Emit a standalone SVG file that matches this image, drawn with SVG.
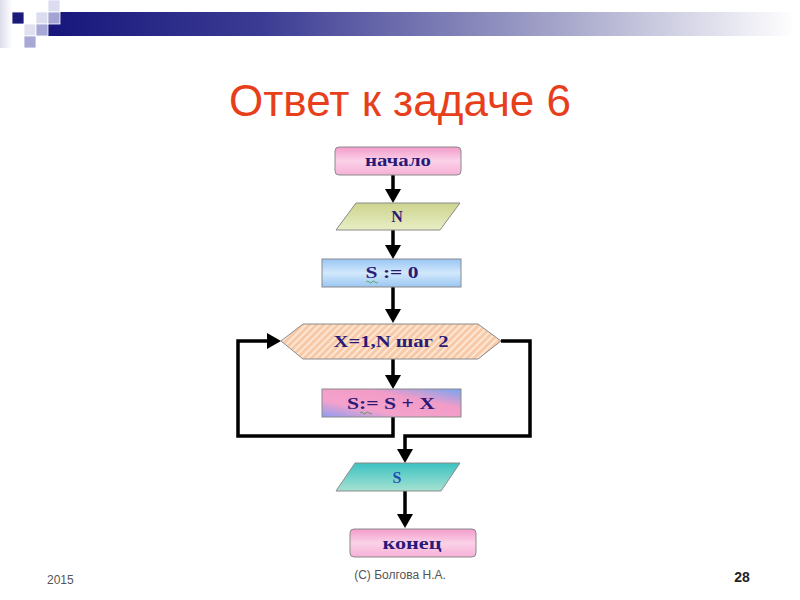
<svg xmlns="http://www.w3.org/2000/svg" width="800" height="600" viewBox="0 0 800 600">
<defs>
<linearGradient id="bar" x1="0" y1="0" x2="1" y2="0">
<stop offset="0" stop-color="#14147a"/>
<stop offset="0.3" stop-color="#3c3c94"/>
<stop offset="0.7" stop-color="#a8a8cc"/>
<stop offset="1" stop-color="#ffffff"/>
</linearGradient>
<linearGradient id="leftfade" x1="0" y1="0" x2="1" y2="0">
<stop offset="0" stop-color="#dcdcec"/>
<stop offset="1" stop-color="#ffffff"/>
</linearGradient>
<linearGradient id="pink" x1="0" y1="0" x2="0" y2="1">
<stop offset="0" stop-color="#f39bcb"/>
<stop offset="0.5" stop-color="#fbd2e8"/>
<stop offset="1" stop-color="#f6b0d6"/>
</linearGradient>
<linearGradient id="olive" x1="0" y1="0" x2="0" y2="1">
<stop offset="0" stop-color="#cdd48e"/>
<stop offset="1" stop-color="#e8eec4"/>
</linearGradient>
<linearGradient id="blue" x1="0" y1="0" x2="0" y2="1">
<stop offset="0" stop-color="#98c6f4"/>
<stop offset="0.5" stop-color="#d2e8fc"/>
<stop offset="1" stop-color="#9ac6f2"/>
</linearGradient>
<linearGradient id="mix" x1="0" y1="1" x2="1" y2="0">
<stop offset="0" stop-color="#8c9cf0"/>
<stop offset="0.3" stop-color="#f4a2cc"/>
<stop offset="0.65" stop-color="#f29cc8"/>
<stop offset="1" stop-color="#74a4f2"/>
</linearGradient>
<linearGradient id="teal" x1="0" y1="0" x2="0" y2="1">
<stop offset="0" stop-color="#3cc2c2"/>
<stop offset="1" stop-color="#a6e2d2"/>
</linearGradient>
<pattern id="hatch" width="5" height="5" patternUnits="userSpaceOnUse" patternTransform="rotate(45)">
<rect width="5" height="5" fill="#f7c9a6"/>
<rect width="2" height="5" fill="#fde6d4"/>
</pattern>
<marker id="ah" viewBox="0 0 14 16" refX="2" refY="8" markerWidth="14" markerHeight="16" markerUnits="userSpaceOnUse" orient="auto">
<path d="M0,0 L14,8 L0,16 z" fill="#000"/>
</marker>
<style>
.box{stroke:#8a8a8a;stroke-width:1}
.lbl{font-family:"Liberation Serif","Times New Roman",serif;font-weight:bold;font-size:16px;fill:#2a1a78;text-anchor:middle}
.conn{fill:none;stroke:#000;stroke-width:3.5;marker-end:url(#ah)}
.foot{font-family:"Liberation Sans Narrow","Liberation Sans",Arial,sans-serif;font-size:12px;fill:#555}
.sq{stroke:#ffffff;stroke-width:0.8}
</style>
</defs>
<rect width="800" height="600" fill="#ffffff"/>
<g id="header">
<rect x="0" y="0" width="12" height="48" fill="url(#leftfade)"/>
<rect x="36" y="12" width="759" height="24" fill="url(#bar)"/>
<rect class="sq" x="12" y="12" width="12" height="12" fill="#1a1a7a"/>
<rect class="sq" x="24" y="24" width="12" height="12" fill="#e0e0f0"/>
<rect class="sq" x="24" y="36" width="12" height="12" fill="#a8a8d6"/>
<rect class="sq" x="36" y="12" width="12" height="12" fill="#dcdcf0"/>
<rect class="sq" x="36" y="24" width="12" height="12" fill="#a8a8d6"/>
<rect class="sq" x="48" y="0" width="12" height="12" fill="#dcdcf0"/>
<rect class="sq" x="48" y="12" width="12" height="12" fill="#a4a4d4"/>
</g>
<text x="400" y="116" font-family="Liberation Sans, Arial, sans-serif" font-size="44" fill="#e73f1c" text-anchor="middle">Ответ к задаче 6</text>
<g id="connectors">
<path class="conn" d="M393,175 V191"/>
<path class="conn" d="M393,230 V247"/>
<path class="conn" d="M393,287 V311"/>
<path class="conn" d="M393,359 V377"/>
<path class="conn" d="M393,417 V436 H238 V341 H269"/>
<path class="conn" d="M501,341 H530 V436 H405 V451"/>
<path class="conn" d="M405,491 V516"/>
</g>
<g id="start">
<rect class="box" x="335" y="147" width="126" height="28" rx="4" fill="url(#pink)"/>
<text class="lbl" x="398" y="166" textLength="66" lengthAdjust="spacingAndGlyphs">начало</text>
</g>
<g id="inputN">
<polygon class="box" points="356,203 460,203 440,230 336,230" fill="url(#olive)"/>
<text class="lbl" x="397" y="222">N</text>
</g>
<g id="init">
<rect class="box" x="322" y="259" width="139" height="28" fill="url(#blue)"/>
<text class="lbl" x="392" y="278" textLength="53" lengthAdjust="spacingAndGlyphs">S := 0</text>
<path d="M366,282 q1.5,-2 3,0 t3,0 t3,0 t3,0" fill="none" stroke="#3a9a3a" stroke-width="0.8"/>
</g>
<g id="loop">
<polygon class="box" points="281,341 303,324 478,324 501,341 478,359 303,359" fill="url(#hatch)"/>
<text class="lbl" x="391" y="347" textLength="115" lengthAdjust="spacingAndGlyphs">X=1,N шаг 2</text>
</g>
<g id="body">
<rect class="box" x="322" y="389" width="139" height="28" fill="url(#mix)"/>
<text class="lbl" x="391" y="409" textLength="88" lengthAdjust="spacingAndGlyphs">S:= S + X</text>
<path d="M360,413 q1.5,-2 3,0 t3,0 t3,0 t3,0" fill="none" stroke="#3a9a3a" stroke-width="0.8"/>
</g>
<g id="outputS">
<polygon class="box" points="355,463 460,463 441,491 336,491" fill="url(#teal)"/>
<text class="lbl" x="397" y="483" style="fill:#1f4fb0">S</text>
</g>
<g id="end">
<rect class="box" x="350" y="529" width="126" height="28" rx="4" fill="url(#pink)"/>
<text class="lbl" x="412" y="549" textLength="59" lengthAdjust="spacingAndGlyphs">конец</text>
</g>
<g id="footer">
<text class="foot" x="47" y="584">2015</text>
<text class="foot" x="400" y="579" text-anchor="middle">(С) Болгова Н.А.</text>
<text x="742" y="582" font-family="Liberation Sans, Arial, sans-serif" font-size="14" font-weight="bold" fill="#222" text-anchor="middle">28</text>
</g>
</svg>
